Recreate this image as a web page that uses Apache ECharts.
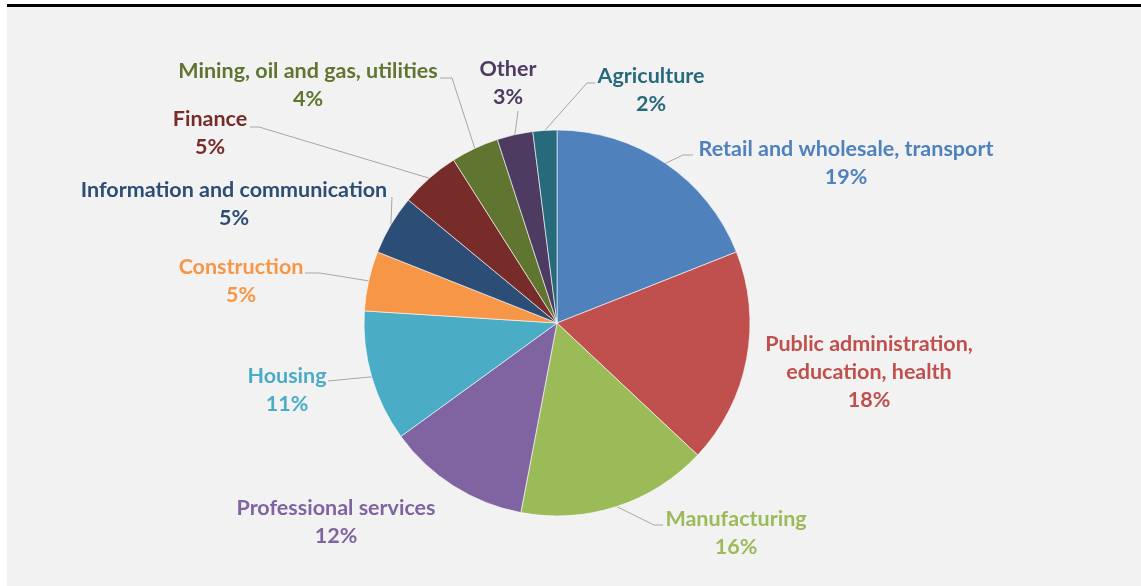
<!DOCTYPE html>
<html>
<head>
<meta charset="utf-8">
<script src="https://cdn.jsdelivr.net/npm/echarts@6/dist/echarts.min.js"></script>
<style>
  html, body { margin: 0; padding: 0; width: 1141px; height: 586px; background: #ffffff; overflow: hidden; }
  #frame { position: absolute; left: 7px; top: 4px; right: 0; bottom: 0; background: #f2f2f2; border-top: 3px solid #000; }
  #chart { position: absolute; left: 0; top: 0; width: 1141px; height: 586px; }
</style>
</head>
<body>
<div id="frame"></div>
<div id="chart"></div>
<script>
// Sectors, clockwise from twelve o'clock
const categories = [
  'Retail and wholesale, transport',
  'Public administration, education, health',
  'Manufacturing',
  'Professional services',
  'Housing',
  'Construction',
  'Information and communication',
  'Finance',
  'Mining, oil and gas, utilities',
  'Other',
  'Agriculture'
];

// Share of total, per cent
const shares = [19, 18, 16, 12, 11, 5, 5, 5, 4, 3, 2];

const sliceColors = [
  '#4f81bd', '#c0504d', '#9bbb59', '#8064a2', '#4bacc6', '#f79646',
  '#2c4d75', '#772c2a', '#5f7530', '#4d3b62', '#276a7c'
];

// Pie geometry
const CX = 557, CY = 323, R = 193;

// Label block centres and leader-line tails, as offsets from the pie centre
const labelPlacement = [
  { at: [289, -160], leader: [[126, -168], [136, -168]] },
  { at: [312, 49],   leader: null },
  { at: [179, 210],  leader: [[97, 202], [106, 202]] },
  { at: [-221, 199], leader: null },
  { at: [-270, 67],  leader: [[-229, 58]] },
  { at: [-316, -42], leader: [[-237, -50], [-252, -50]] },
  { at: [-323, -119], leader: [[-165, -126]] },
  { at: [-347, -190], leader: [[-298, -196], [-307, -196]] },
  { at: [-249, -238], leader: [[-105, -245], [-117, -245]] },
  { at: [-49, -240], leader: [[-39, -212]] },
  { at: [94, -233],  leader: [[30, -240], [38, -240]] }
];

const seriesData = categories.map((name, i) => ({
  name: name,
  value: shares[i],
  itemStyle: { color: sliceColors[i] },
  label: { color: sliceColors[i] },
  labelLine: { show: !!labelPlacement[i].leader }
}));

const chart = echarts.init(document.getElementById('chart'), null, { renderer: 'canvas' });

chart.setOption({
  backgroundColor: 'transparent',
  animation: false,
  series: [{
    type: 'pie',
    center: [CX, CY],
    radius: R,
    startAngle: 90,
    clockwise: true,
    percentPrecision: 0,
    avoidLabelOverlap: false,
    itemStyle: { borderColor: '#ffffff', borderWidth: 0.6 },
    label: {
      show: true,
      position: 'outside',
      fontFamily: 'Lato',
      fontWeight: 'bold',
      fontSize: 21.5,
      lineHeight: 28,
      formatter: function (p) {
        const text = p.name.replace('administration, ', 'administration,\n');
        return text + '\n' + p.percent + '%';
      }
    },
    labelLine: {
      show: true,
      smooth: false,
      lineStyle: { color: '#a6a6a6', width: 1 }
    },
    labelLayout: function (p) {
      const pl = labelPlacement[p.dataIndex];
      const out = {
        x: CX + pl.at[0],
        y: CY + pl.at[1],
        align: 'center',
        verticalAlign: 'middle'
      };
      if (pl.leader && p.labelLinePoints) {
        const start = p.labelLinePoints[0];
        const tail = pl.leader.map(q => [CX + q[0], CY + q[1]]);
        if (tail.length === 1) {
          const end = tail[0];
          tail.unshift([(start[0] + end[0]) / 2, (start[1] + end[1]) / 2]);
        }
        out.labelLinePoints = [start].concat(tail);
      }
      return out;
    },
    data: seriesData
  }]
});
</script>
</body>
</html>
